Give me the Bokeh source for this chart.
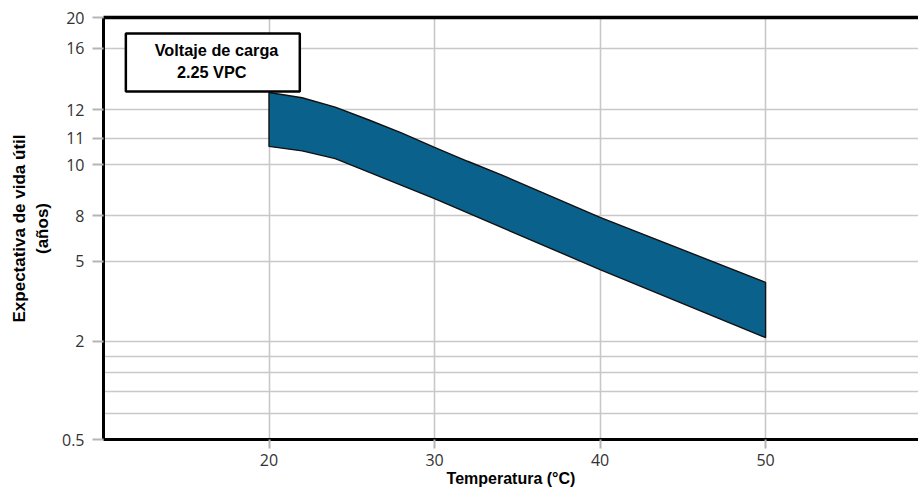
import numpy as np
from bokeh.plotting import figure
from bokeh.models import Range1d, FixedTicker, LinearAxis, BoxAnnotation, Label
from bokeh.embed import file_html
from bokeh.resources import INLINE

# ---- data ----
temp_upper = [20, 22, 24, 26, 28, 30, 32, 34, 40, 50]
life_upper = [13.12, 12.78, 12.17, 11.65, 11.19, 10.66, 10.14, 9.62, 7.89, 4.21]
temp_lower = [20, 22, 24, 30, 40, 50]
life_lower = [10.70, 10.53, 10.24, 8.67, 4.69, 2.14]

x_ticks = [20, 30, 40, 50]
y_tick_values = [0.5, 2, 5, 8, 10, 11, 12, 16, 20]
y_tick_labels = ["0.5", "2", "5", "8", "10", "11", "12", "16", "20"]

# ---- non-uniform y scale of the original (position of each tick value) ----
y_tick_pos = [0, 98.3, 178.3, 224, 274.7, 301.3, 330, 391.7, 422.3]
y_extra_grid = [26, 47.7, 66.7, 83]


def to_pos(v):
    return list(np.interp(v, y_tick_values, y_tick_pos))


TXT = "#333333"
GRID = "#c8c8c8"
BOLD_FONT = "Liberation Sans"

p = figure(width=918, height=497,
           x_range=Range1d(10, 59.24), y_range=Range1d(0, 422.3),
           output_backend="svg", toolbar_location=None,
           min_border_left=103, min_border_right=0,
           min_border_top=17, min_border_bottom=58)
p.outline_line_color = None
p.background_fill_color = "white"

# grids
p.xgrid.ticker = FixedTicker(ticks=x_ticks)
p.ygrid.ticker = FixedTicker(ticks=y_tick_pos + y_extra_grid)
for g in (p.xgrid, p.ygrid):
    g.grid_line_color = GRID
    g.grid_line_width = 1.6

# x axis
xa = p.xaxis[0]
xa.ticker = FixedTicker(ticks=x_ticks)
xa.axis_line_color = "black"
xa.axis_line_width = 3
xa.major_tick_line_color = "#b5b5b5"
xa.major_tick_line_width = 2
xa.major_tick_out = 9
xa.major_tick_in = 0
xa.minor_tick_line_color = None
xa.major_label_standoff = 5
xa.major_label_text_font = "Open Sans"
xa.major_label_text_font_size = "16px"
xa.major_label_text_color = TXT
xa.axis_label = "Temperatura (°C)"
xa.axis_label_text_font = BOLD_FONT
xa.axis_label_text_font_style = "bold"
xa.axis_label_text_font_size = "16px"
xa.axis_label_text_color = "black"
xa.axis_label_standoff = 1

# y axis
ya = p.yaxis[0]
ya.ticker = FixedTicker(ticks=y_tick_pos)
ya.major_label_overrides = {pos: lab for pos, lab in zip(y_tick_pos, y_tick_labels)}
ya.axis_line_color = "black"
ya.axis_line_width = 3
ya.major_tick_line_color = "#b5b5b5"
ya.major_tick_line_width = 2
ya.major_tick_out = 11
ya.major_tick_in = 0
ya.minor_tick_line_color = None
ya.major_label_standoff = 8
ya.major_label_text_font = "Open Sans"
ya.major_label_text_font_size = "16px"
ya.major_label_text_color = TXT
ya.axis_label = "Expectativa de vida útil\n(años)"
ya.axis_label_text_font = BOLD_FONT
ya.axis_label_text_font_style = "bold"
ya.axis_label_text_font_size = "17px"
ya.axis_label_text_color = "black"
ya.axis_label_standoff = 7

# top border line
top = LinearAxis(ticker=FixedTicker(ticks=[]), axis_line_color="black",
                 axis_line_width=3.5, major_tick_line_color=None,
                 minor_tick_line_color=None, major_label_standoff=0)
p.add_layout(top, "above")

# band
xs = temp_upper + temp_lower[::-1]
ys = to_pos(life_upper) + to_pos(life_lower)[::-1]
p.patch(xs, ys, fill_color="#0a618c", line_color="#111111", line_width=1.4)

# annotation box
p.add_layout(BoxAnnotation(left=11.35, right=21.86, bottom=348.3, top=406.3,
                           fill_color="white", fill_alpha=1.0,
                           line_color="black", line_alpha=1.0, line_width=2.5))
for txt, x, y in [("Voltaje de carga", 16.83, 390), ("2.25 VPC", 16.54, 368)]:
    p.add_layout(Label(x=x, y=y, text=txt, text_font=BOLD_FONT,
                       text_font_style="bold", text_font_size="16.3px",
                       text_color="black", text_align="center",
                       text_baseline="middle"))

open("out.html", "w").write(file_html(p, INLINE))
